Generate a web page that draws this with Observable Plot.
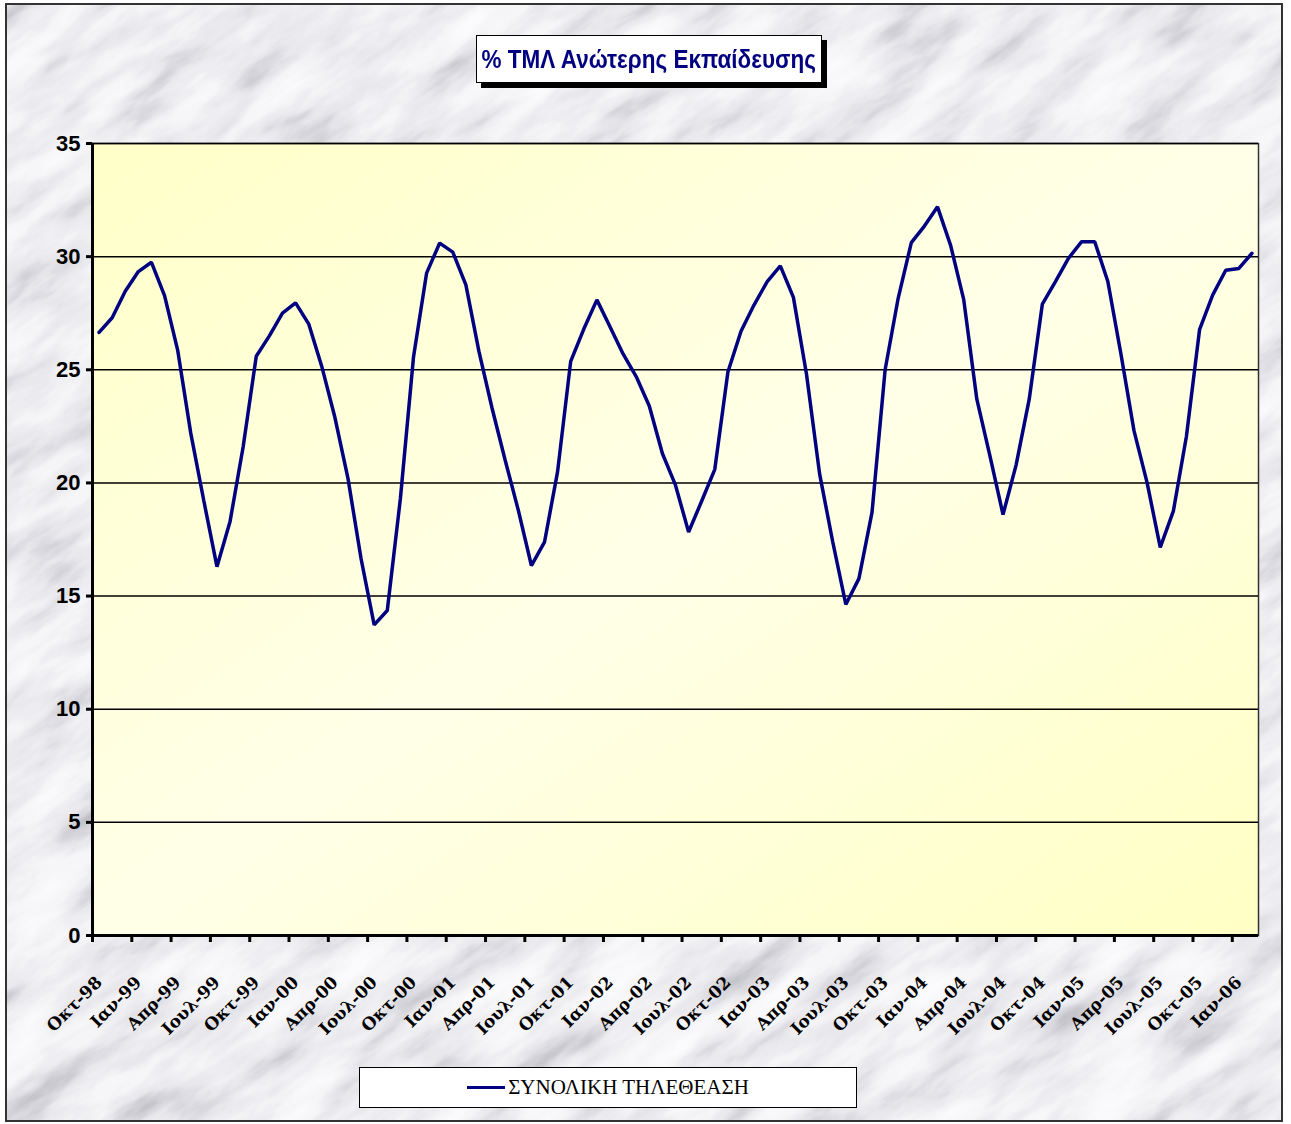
<!DOCTYPE html>
<html><head><meta charset="utf-8">
<script src="https://cdn.jsdelivr.net/npm/d3@7"></script>
<script src="https://cdn.jsdelivr.net/npm/@observablehq/plot@0.6"></script>
<style>
html,body{margin:0;padding:0;background:#fff;}
#page{position:relative;width:1291px;height:1124px;overflow:hidden;background:#fff;}
#marble{position:absolute;left:6px;top:4px;}
#frame{position:absolute;left:5px;top:3px;width:1278px;height:1119px;border:2px solid #333;box-sizing:border-box;}
#chart{position:absolute;left:0;top:0;}
#title{position:absolute;left:476px;top:35px;width:346px;height:48px;box-sizing:border-box;border:1px solid #000;background:#fff;box-shadow:5px 5px 0 #000;color:#000080;display:flex;align-items:center;justify-content:center;white-space:nowrap;}
#title span{display:inline-block;font:bold 25px "Liberation Sans",Arial,sans-serif;transform:scaleX(0.9);}
#legend{position:absolute;left:359px;top:1067px;width:498px;height:41px;box-sizing:border-box;border:1px solid #000;background:#fff;display:flex;align-items:center;justify-content:center;font:21px "Liberation Serif","Times New Roman",serif;color:#000;white-space:nowrap;}
#legend .sw{display:inline-block;width:38px;height:3px;background:#000080;margin-right:3px;}
</style></head>
<body>
<div id="page">
<svg id="marble" width="1276" height="1118" xmlns="http://www.w3.org/2000/svg">
<defs>
<filter id="mf" filterUnits="userSpaceOnUse" x="-1200" y="-1200" width="4000" height="4000">
<feTurbulence type="fractalNoise" baseFrequency="0.009 0.03" numOctaves="5" seed="7"/>
<feColorMatrix type="matrix" values="1 0 0 0 0  1 0 0 0 0  1 0 0 0 0  0 0 0 0 1"/>
<feComponentTransfer>
<feFuncR type="table" tableValues="0.45 0.62 0.8 0.91 0.96 0.99"/>
<feFuncG type="table" tableValues="0.45 0.62 0.8 0.91 0.96 0.99"/>
<feFuncB type="table" tableValues="0.5 0.66 0.84 0.93 0.98 1"/>
</feComponentTransfer>
</filter>
</defs>
<g transform="rotate(-35 638 559)"><rect x="-500" y="-500" width="2300" height="2100" filter="url(#mf)"/></g>
</svg>
<div id="frame"></div>
<div id="chart"></div>
<div id="title"><span>% ΤΜΛ Ανώτερης Εκπαίδευσης</span></div>
<div id="legend"><span class="sw"></span>ΣΥΝΟΛΙΚΗ ΤΗΛΕΘΕΑΣΗ</div>
</div>
<script>
// Monthly values, Oct-98 … Feb-06
const values = [
  26.65, 27.3, 28.47, 29.34, 29.75, 28.28, 25.87, 22.2, 19.2, 16.3, 18.3, 21.6,
  25.6, 26.5, 27.5, 27.96, 27.03, 25.15, 22.9, 20.2, 16.65, 13.73, 14.36, 19.3,
  25.55, 29.27, 30.6, 30.2, 28.75, 25.8, 23.3, 21.0, 18.8, 16.35, 17.38, 20.5,
  25.37, 26.8, 28.09, 26.9, 25.7, 24.7, 23.4, 21.3, 19.9, 17.83, 19.2, 20.6,
  24.9, 26.7, 27.87, 28.9, 29.59, 28.2, 24.8, 20.4, 17.4, 14.63, 15.77, 18.7,
  25.0, 28.17, 30.62, 31.35, 32.2, 30.5, 28.1, 23.7, 21.2, 18.6, 20.8, 23.7,
  27.9, 28.9, 29.93, 30.66, 30.66, 28.9, 25.7, 22.3, 20.0, 17.15, 18.75, 22.06,
  26.77, 28.3, 29.4, 29.48, 30.15
];
const tickLabels = [
  "Οκτ-98","Ιαν-99","Απρ-99","Ιουλ-99","Οκτ-99","Ιαν-00","Απρ-00","Ιουλ-00",
  "Οκτ-00","Ιαν-01","Απρ-01","Ιουλ-01","Οκτ-01","Ιαν-02","Απρ-02","Ιουλ-02",
  "Οκτ-02","Ιαν-03","Απρ-03","Ιουλ-03","Οκτ-03","Ιαν-04","Απρ-04","Ιουλ-04",
  "Οκτ-04","Ιαν-05","Απρ-05","Ιουλ-05","Οκτ-05","Ιαν-06"
];
const yTicks = [0, 5, 10, 15, 20, 25, 30, 35];
const labelStep = 3;

const data = values.map((v, i) => ({i: i + 0.5, v}));
const labelData = tickLabels.map((t, k) => ({i: k * labelStep + 0.5, t}));
const tickPos = tickLabels.map((t, k) => k * labelStep);

const chart = Plot.plot({
  width: 1291, height: 1124,
  marginLeft: 92, marginRight: 33, marginTop: 143, marginBottom: 189,
  style: {background: "transparent", overflow: "visible"},
  x: {domain: [0, values.length]},
  y: {domain: [0, 35]},
  marks: [
    Plot.frame({fill: "url(#plotbg)", stroke: "#333", strokeWidth: 1.5}),
    Plot.ruleY(yTicks, {stroke: "#000", strokeWidth: 1.5}),
    Plot.line(data, {x: "i", y: "v", stroke: "#000080", strokeWidth: 3.5, strokeLinejoin: "miter", curve: "linear"}),
    Plot.ruleX([0], {stroke: "#000", strokeWidth: 3}),
    Plot.ruleY([0], {stroke: "#000", strokeWidth: 3}),
    Plot.axisY({ticks: yTicks, tickSize: 6, tickPadding: 6, strokeWidth: 3, stroke: "#000",
      fontSize: 22, fontWeight: "bold", fontFamily: "Liberation Sans, Arial, sans-serif", fill: "#000", label: null}),
    Plot.axisX({ticks: tickPos, tickSize: 7, strokeWidth: 3, stroke: "#000", tickFormat: () => "", label: null}),
    Plot.text(labelData, {x: "i", frameAnchor: "bottom", text: "t", rotate: -45, textAnchor: "end",
      lineAnchor: "bottom", dx: 4, dy: 48, fontFamily: "DejaVu Serif", fontWeight: "bold", fontSize: 17, fill: "#000"})
  ]
});
const ns = "http://www.w3.org/2000/svg";
const defs = document.createElementNS(ns, "defs");
defs.innerHTML = '<linearGradient id="plotbg" x1="0" y1="0" x2="1" y2="1">' +
  '<stop offset="0" stop-color="#ffffc8"/><stop offset="0.5" stop-color="#ffffe8"/>' +
  '<stop offset="1" stop-color="#ffffc4"/></linearGradient>';
chart.insertBefore(defs, chart.firstChild);
document.getElementById("chart").appendChild(chart);
</script>
</body></html>
